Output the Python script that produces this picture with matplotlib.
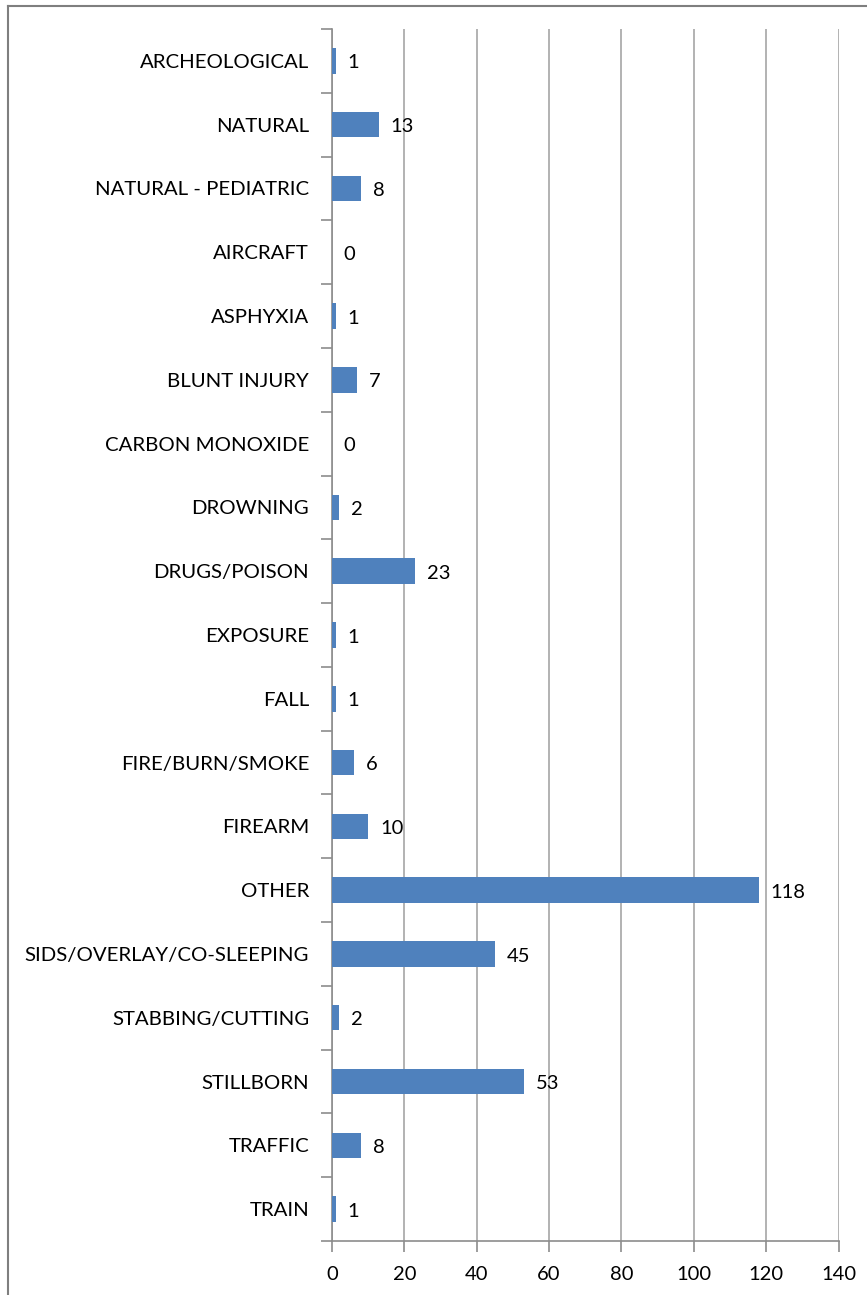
import matplotlib
matplotlib.use("Agg")
import matplotlib.pyplot as plt
from matplotlib.lines import Line2D

categories = ["ARCHEOLOGICAL", "NATURAL", "NATURAL - PEDIATRIC", "AIRCRAFT", "ASPHYXIA",
              "BLUNT INJURY", "CARBON MONOXIDE", "DROWNING", "DRUGS/POISON", "EXPOSURE",
              "FALL", "FIRE/BURN/SMOKE", "FIREARM", "OTHER", "SIDS/OVERLAY/CO-SLEEPING",
              "STABBING/CUTTING", "STILLBORN", "TRAFFIC", "TRAIN"]
values = [1, 13, 8, 0, 1, 7, 0, 2, 23, 1, 1, 6, 10, 118, 45, 2, 53, 8, 1]
xticks = [0, 20, 40, 60, 80, 100, 120, 140]

plt.rcParams['font.family'] = ['Lato', 'DejaVu Sans']
W, H = 867, 1295
fig = plt.figure(figsize=(W / 100, H / 100), dpi=100)
left, right, top, bottom = 332, 838.5, 29, 1241
ax = fig.add_axes([left / W, 1 - bottom / H, (right - left) / W, (bottom - top) / H])

n = len(categories)
ypos = list(range(n))
ax.barh(ypos, values, height=0.4, color="#4F81BD", zorder=3)
ax.set_ylim(n - 0.5, -0.5)
ax.set_xlim(0, 140)
ax.set_xticks(xticks)
ax.set_xticklabels([str(t) for t in xticks], fontsize=14.5)
ax.set_yticks(ypos)
ax.set_yticklabels(categories, fontsize=14.7)
ax.tick_params(axis='y', length=0, pad=16.5)
ax.tick_params(axis='x', length=8, color="#8C8C8C", width=1.2, pad=10)
# category boundary ticks
ax.set_yticks([i - 0.5 for i in range(n + 1)], minor=True)
ax.tick_params(axis='y', which='minor', length=8, color="#8C8C8C", width=1.2)

ax.grid(axis='x', color="#A6A6A6", linewidth=1.2, zorder=0)
for s in ["top", "right"]:
    ax.spines[s].set_visible(False)
for s in ["left", "bottom"]:
    ax.spines[s].set_color("#8C8C8C")
    ax.spines[s].set_linewidth(1.2)

for y, v in zip(ypos, values):
    ax.annotate(str(v), xy=(v, y), xytext=(8.5, -1.5), textcoords="offset points",
                va="center", ha="left", fontsize=14.5, zorder=4)

# outer border (top and left)
fig.add_artist(Line2D([8 / W, 1], [1 - 6 / H, 1 - 6 / H], color="#7F7F7F", linewidth=1.5,
                      transform=fig.transFigure))
fig.add_artist(Line2D([8 / W, 8 / W], [0, 1 - 6 / H], color="#7F7F7F", linewidth=1.5,
                      transform=fig.transFigure))

fig.savefig("out.png", dpi=100, facecolor="white")
